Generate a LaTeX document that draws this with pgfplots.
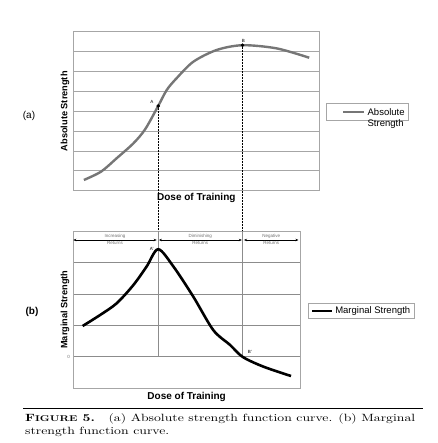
\documentclass[border=0pt]{standalone}
\usepackage{fontspec}
\setsansfont{Liberation Sans}
\usepackage{pgfplots}
\pgfplotsset{compat=1.18}
\usetikzlibrary{arrows.meta}

\definecolor{gridgray}{HTML}{A6A6A6}
\definecolor{griddark}{HTML}{8C8C8C}
\definecolor{curvegray}{HTML}{767676}
\definecolor{notegray}{HTML}{707070}

\tikzset{note/.style={font=\sffamily\fontsize{4.5}{5}\selectfont, text=notegray, inner sep=1pt}}

\pgfplotsset{
  dosebase/.style={
    scale only axis, anchor=north west,
    axis line style={gridgray, line width=0.9pt},
    xtick=\empty,
    ymajorgrids, major grid style={gridgray, line width=0.7pt},
    major tick length=0pt,
    clip=false,
    font=\sffamily,
    xlabel style={font=\sffamily\bfseries\fontsize{10}{12}\selectfont, anchor=center},
    ylabel style={font=\sffamily\bfseries\fontsize{9.2}{11}\selectfont, anchor=center},
    legend cell align=left,
    legend style={draw=gridgray, line width=0.6pt, anchor=north west,
      font=\sffamily\fontsize{9.5}{11}\selectfont, inner xsep=2pt, inner ysep=1pt},
  },
}

\begin{document}
\begin{tikzpicture}
\path[use as bounding box] (0pt,0pt) rectangle (437pt,-443pt);

% (a) absolute strength
\begin{axis}[dosebase,
    at={(73.3pt,-31.7pt)}, width=246pt, height=159pt,
    xmin=0, xmax=10, ymin=0, ymax=8,
    ytick={1,...,7}, yticklabels={,,,,,,},
    xlabel={Dose of Training},
    xlabel style={at={(axis description cs:0.5,-0.048)}},
    ylabel={Absolute Strength},
    ylabel style={at={(axis description cs:-0.034,0.5)}},
    legend style={at={(axis description cs:1.027,0.550)}, inner ysep=2pt},
    legend image code/.code={\path (-14pt,0pt); \draw[#1] (0pt,0pt) -- (21pt,0pt);},
  ]
\draw[densely dotted, line width=0.5pt] (axis cs:3.45,4.26) -- (axis cs:3.45,-2.03);
\draw[densely dotted, line width=0.5pt] (axis cs:6.88,7.32) -- (axis cs:6.88,-2.03);
\addplot[curvegray, line width=2.4pt, smooth] coordinates {
  (0.43,0.54) (1.13,0.96) (1.76,1.63) (2.44,2.38) (2.92,3.09) (3.45,4.26)
  (3.80,5.07) (4.20,5.66) (4.88,6.49) (5.83,7.08) (6.88,7.32) (8.27,7.16) (9.59,6.69)};
\addlegendentry{\begin{tabular}[t]{@{}l@{}}Absolute\\Strength\end{tabular}}
\addplot[only marks, mark=*, mark size=1.6pt, black, forget plot] coordinates {(3.45,4.26) (6.88,7.32)};
\node[note, text=black] at (axis cs:3.19,4.48) {A};
\node[note, text=black] at (axis cs:6.91,7.55) {B};
\end{axis}

% (b) marginal strength
\begin{axis}[dosebase,
    at={(73.3pt,-231pt)}, width=226.7pt, height=157.3pt,
    xmin=0, xmax=9.215, ymin=-1, ymax=4,
    major grid style={griddark, line width=0.7pt},
    ytick={0,1,2,3}, yticklabels={0,,,},
    yticklabel style={font=\sffamily\fontsize{4.5}{5}\selectfont, text=notegray},
    xlabel={Dose of Training},
    xlabel style={at={(axis description cs:0.5,-0.057)}},
    ylabel={Marginal Strength},
    ylabel style={at={(axis description cs:-0.036,0.5)}},
    legend style={at={(axis description cs:1.037,0.540)}},
    legend image code/.code={\draw[#1] (0pt,0pt) -- (20pt,0pt);},
  ]
\draw[griddark, line width=0.7pt] (axis cs:3.45,0) -- (axis cs:3.45,4);
\draw[griddark, line width=0.7pt] (axis cs:6.88,0) -- (axis cs:6.88,4);
\draw[{Stealth[length=3pt,width=2.5pt]}-{Stealth[length=3pt,width=2.5pt]}, line width=0.6pt]
  (axis cs:0,3.714) -- (axis cs:3.39,3.714)
  node[midway, above, note] {Increasing} node[midway, below, note] {Returns};
\draw[{Stealth[length=3pt,width=2.5pt]}-{Stealth[length=3pt,width=2.5pt]}, line width=0.6pt]
  (axis cs:3.48,3.714) -- (axis cs:6.85,3.714)
  node[midway, above, note] {Diminishing} node[midway, below, note] {Returns};
\draw[{Stealth[length=3pt,width=2.5pt]}-{Stealth[length=3pt,width=2.5pt]}, line width=0.6pt]
  (axis cs:6.94,3.714) -- (axis cs:9.15,3.714)
  node[midway, above, note] {Negative} node[midway, below, note] {Returns};
\addplot[black, line width=2.6pt, smooth] coordinates {
  (0.38,0.98) (1.09,1.33) (1.76,1.70) (2.44,2.28) (2.98,2.87) (3.45,3.42)
  (4.07,2.87) (4.88,1.91) (5.69,0.85) (6.37,0.38) (6.88,0.0) (7.72,-0.31) (8.85,-0.61)};
\addlegendentry{Marginal Strength}
\node[note, text=black] at (axis cs:3.19,3.42) {A'};
\node[note, text=black] at (axis cs:7.18,0.17) {B'};
\end{axis}

\node[font=\sffamily\fontsize{10}{12}\selectfont] at (29pt,-115.7pt) {(a)};
\node[font=\sffamily\bfseries\fontsize{10}{12}\selectfont] at (32pt,-312pt) {(b)};

% caption
\draw[line width=1.2pt] (23pt,-408.3pt) -- (423pt,-408.3pt);
\node[anchor=north west, inner sep=0pt] at (25pt,-412.9pt)
  {\resizebox*{390pt}{25.2pt}{\begin{tabular}{@{}l@{}}
   {\bfseries F\scalebox{0.8}{IGURE} 5.}\quad (a) Absolute strength function curve. (b) Marginal\\
   strength function curve.\end{tabular}}};
\end{tikzpicture}
\end{document}
